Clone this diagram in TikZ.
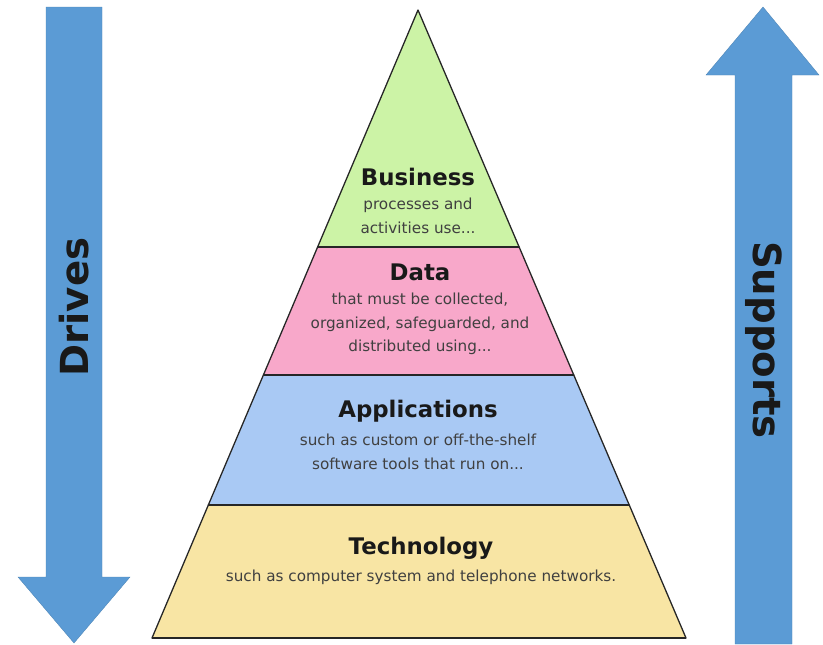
\documentclass[tikz,border=0pt]{standalone}
\usepackage{fontspec}
\setmainfont{DejaVu Sans}
\usetikzlibrary{calc}
\definecolor{arrowblue}{HTML}{5B9BD5}
\definecolor{busgreen}{HTML}{CCF3A6}
\definecolor{datapink}{HTML}{F8A8CA}
\definecolor{appblue}{HTML}{A9C9F4}
\definecolor{techyellow}{HTML}{F8E5A4}

\begin{document}
\begin{tikzpicture}[x=0.03cm,y=-0.03cm,
	layer/.style={draw=black!85,line width=1.1pt,line join=round},
	sep/.style={draw=black!85,line width=2pt},
	title/.style={font=\bfseries\fontsize{19.5}{22}\selectfont,text=black!90},
	note/.style={font=\fontsize{13}{20.2}\selectfont,text=black!75,align=center},
	bigarrow/.style={fill=arrowblue,draw=arrowblue!85!black,line width=0.3pt},
	side/.style={font=\bfseries\fontsize{33}{38}\selectfont,text=black!90}]
	\useasboundingbox (0,0) rectangle (823,644);
	\coordinate (apex) at (418,10);
	\coordinate (bl) at (152,638);
	\coordinate (br) at (686,638);
	\foreach \t/\n in {0.377/a,0.581/b,0.788/c}{
		\coordinate (l\n) at ($(apex)!\t!(bl)$);
		\coordinate (r\n) at ($(apex)!\t!(br)$);
	}
	\filldraw[layer,fill=busgreen] (apex)--(ra)--(la)--cycle;
	\filldraw[layer,fill=datapink] (la)--(ra)--(rb)--(lb)--cycle;
	\filldraw[layer,fill=appblue] (lb)--(rb)--(rc)--(lc)--cycle;
	\filldraw[layer,fill=techyellow] (lc)--(rc)--(br)--(bl)--cycle;
	\draw[sep] (la)--(ra) (lb)--(rb) (lc)--(rc) (bl)--(br);
	% labels
	\node[title] (bus) at (418,177) {Business};
	\node[note] (busnote) at (418,216) {processes and\\activities use...};
	\node[title] (data) at (420,272) {Data};
	\node[note] (datanote) at (420,324) {that must be collected,\\organized, safeguarded, and\\distributed using...};
	\node[title] (app) at (418,411) {Applications};
	\node[note] (appnote) at (418,452) {such as custom or off-the-shelf\\software tools that run on...};
	\node[title] (tech) at (421,548) {Technology};
	\node[note] (technote) at (421,577) {such as computer system and telephone networks.};
	% side arrows
	\filldraw[bigarrow] (46,7)--(102,7)--(102,577)--(130,577)--(74,643)--(18,577)--(46,577)--cycle;
	\filldraw[bigarrow] (763,7)--(819,75)--(792,75)--(792,644)--(735,644)--(735,75)--(706,75)--cycle;
	\node[side,rotate=90] (drives) at (74,307) {Drives};
	\node[side,rotate=-90] (supports) at (764,340) {Supports};
\end{tikzpicture}
\end{document}
